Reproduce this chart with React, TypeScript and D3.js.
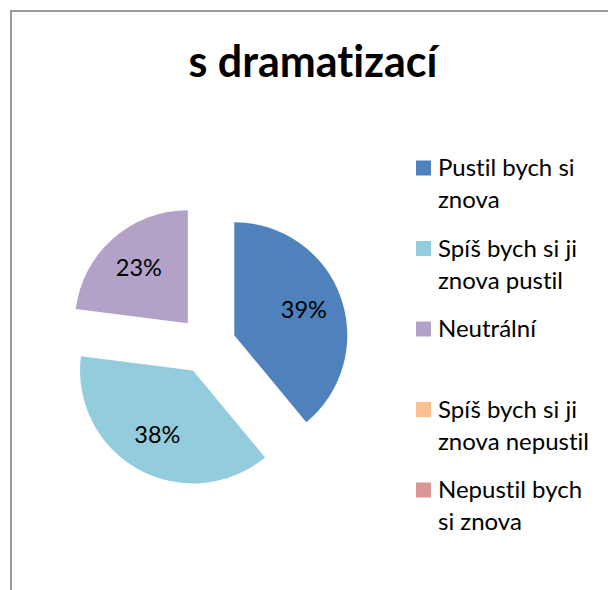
import React, { useEffect, useRef } from 'react';
import * as d3 from 'd3';

// s dramatizací – exploded pie, five answer categories (two empty)

const title = 's dramatizací';
const categories = [
  'Pustil bych si znova',
  'Spíš bych si ji znova pustil',
  'Neutrální',
  'Spíš bych si ji znova nepustil',
  'Nepustil bych si znova',
];
const legendLines = [
  ['Pustil bych si', 'znova'],
  ['Spíš bych si ji', 'znova pustil'],
  ['Neutrální'],
  ['Spíš bych si ji', 'znova nepustil'],
  ['Nepustil bych', 'si znova'],
];
const values = [39, 38, 23, 0, 0];
const colors = ['#4F81BD', '#93CDDD', '#B3A2C7', '#FAC090', '#D99694'];

const App = () => {
  const svgRef = useRef<SVGSVGElement>(null);

  useEffect(() => {
    const width = 608;
    const height = 590;
    const cx = 207;
    const cy = 345;
    const radius = 113;
    const explode = 29;
    const labelR = 74;
    const font = 'Lato, sans-serif';

    const svg = d3.select(svgRef.current);
    svg.selectAll('*').remove();

    // chart area frame (right and bottom edges fall outside the picture)
    svg.append('rect')
      .attr('x', 11)
      .attr('y', 11)
      .attr('width', width + 20)
      .attr('height', height + 20)
      .attr('fill', '#fff')
      .attr('stroke', '#9a9a9a')
      .attr('stroke-width', 2);

    svg.append('text')
      .attr('x', 313)
      .attr('y', 77)
      .attr('text-anchor', 'middle')
      .attr('font-family', font)
      .attr('font-weight', 'bold')
      .attr('font-size', 43)
      .style('font-variant-ligatures', 'none')
      .attr('fill', '#000')
      .text(title);

    const total = d3.sum(values);
    const pie = d3.pie<number>().sort(null).value(d => d)(values);
    const arc = d3.arc<d3.PieArcDatum<number>>().innerRadius(0).outerRadius(radius);

    const g = svg.append('g').attr('transform', `translate(${cx},${cy})`);

    const slices = g.selectAll('g.slice')
      .data(pie.filter(d => d.value > 0))
      .enter()
      .append('g')
      .attr('class', 'slice')
      .attr('transform', d => {
        const a = (d.startAngle + d.endAngle) / 2;
        return `translate(${Math.sin(a) * explode},${-Math.cos(a) * explode})`;
      });

    slices.append('path')
      .attr('d', arc)
      .attr('fill', d => colors[d.index]);

    slices.append('text')
      .attr('x', d => Math.sin((d.startAngle + d.endAngle) / 2) * labelR)
      .attr('y', d => -Math.cos((d.startAngle + d.endAngle) / 2) * labelR)
      .attr('dy', '0.35em')
      .attr('text-anchor', 'middle')
      .attr('font-family', font)
      .attr('font-size', 23.5)
      .attr('fill', '#000')
      .text(d => `${Math.round((d.value / total) * 100)}%`);

    // legend
    const legendY = d3.scaleLinear().domain([0, 4]).range([168, 490]);
    const legend = svg.append('g')
      .selectAll('g')
      .data(categories)
      .enter()
      .append('g')
      .attr('transform', (_d, i) => `translate(416,${legendY(i)})`);

    legend.append('rect')
      .attr('x', 0)
      .attr('y', -7.5)
      .attr('width', 15)
      .attr('height', 15)
      .attr('fill', (_d, i) => colors[i]);

    legend.append('text')
      .attr('font-family', font)
      .attr('font-size', 24)
      .style('font-variant-ligatures', 'none')
      .attr('fill', '#000')
      .selectAll('tspan')
      .data((_d, i) => legendLines[i])
      .enter()
      .append('tspan')
      .attr('x', 22)
      .attr('y', (_d, j) => 8 + j * 32)
      .text(d => d);
  }, []);

  return (
    <svg
      ref={svgRef}
      width="608"
      height="590"
      style={{ position: 'absolute', left: 0, top: 0 }}
    />
  );
};

export default App;
